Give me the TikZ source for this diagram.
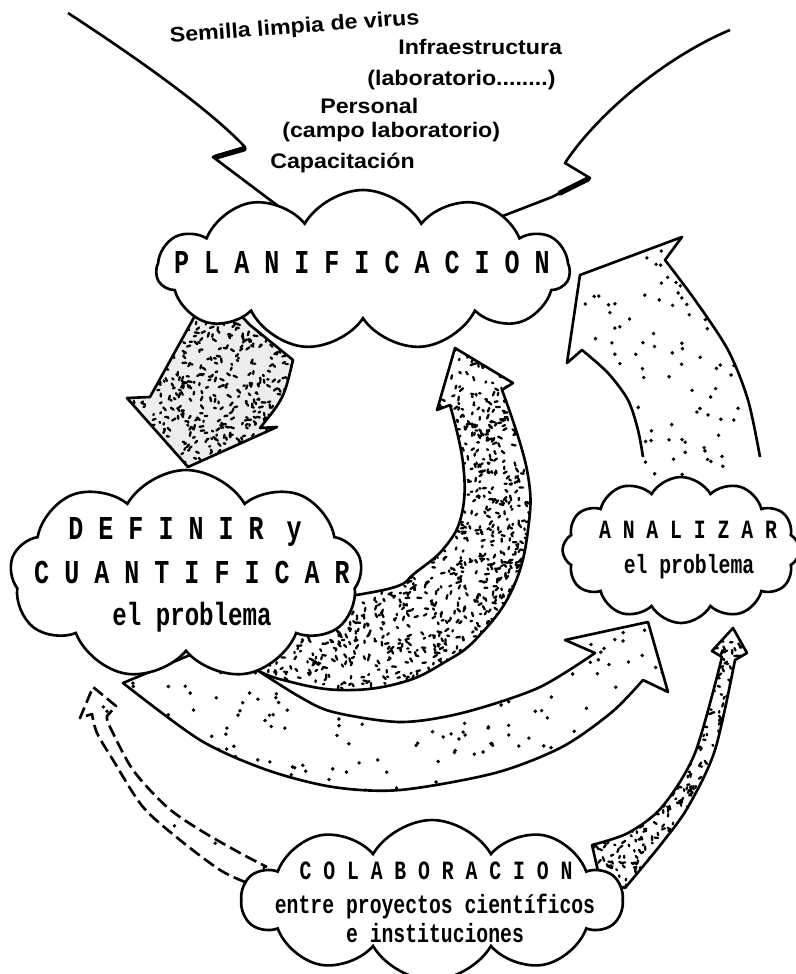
\documentclass[tikz,border=0pt]{standalone}
\usepackage{fontspec}
\usetikzlibrary{positioning,shapes.symbols,calc}
\newfontfamily\typew[FakeStretch=0.75]{Liberation Mono}
\newfontfamily\labsans[FakeStretch=1.1]{Liberation Sans}

% random specks / dots inside a box (use inside a clip)
\newcommand{\speckle}[5]{%
  \foreach \k in {1,...,#5}{%
    \pgfmathsetmacro{\sx}{#1+rnd*(#2-#1)}%
    \pgfmathsetmacro{\sy}{#3+rnd*(#4-#3)}%
    \pgfmathsetmacro{\sa}{rnd*180}%
    \pgfmathsetmacro{\sl}{1.2+rnd*3}%
    \draw[line width=1.3pt, line cap=round] (\sx,\sy) -- ++(\sa:\sl);
  }}
\newcommand{\sprinkle}[5]{%
  \foreach \k in {1,...,#5}{%
    \pgfmathsetmacro{\sx}{#1+rnd*(#2-#1)}%
    \pgfmathsetmacro{\sy}{#3+rnd*(#4-#3)}%
    \fill (\sx,\sy) circle (1.1pt);
  }}

% fat arrows
\def\arrA{(222,296) -- (197,312) -- (150,397) -- (127,398) -- (188,467) -- (277,427) -- (260,428) .. controls (284,398) .. (293,360) -- (250,325) -- cycle}
\def\arrB{(455,348) -- (513,383) -- (502,390) -- plot[smooth, tension=0.7] coordinates {(502,390) (527,470) (528,530) (512,590) (478,637) (445,662) (400,683) (340,690) (283,680) (257,670)} -- (300,620) -- plot[smooth, tension=0.7] coordinates {(343,597) (395,587) (415,573) (445,547) (462,513) (463,463) (450,405)} -- (437,410) -- cycle}
\def\arrC{plot[smooth] coordinates {(643,457) (638,430) (628,400) (608,373) (582,350)} -- (567,363) -- (580,275) -- (682,237) -- (665,260) -- plot[smooth] coordinates {(665,260) (695,300) (728,350) (748,400) (760,457)}}
\def\arrD{plot[smooth] coordinates {(123,683) (200,740) (267,770) (333,787) (400,790) (495,773) (562,747) (612,712) (643,680)} -- (668,692) -- (648,622) -- (565,640) -- (595,653) -- plot[smooth] coordinates {(595,653) (538,688) (462,713) (400,722) (333,712) (300,697) (257,670)} -- (190,655) -- cycle}
\def\arrE{plot[smooth] coordinates {(592,845) (628,833) (662,807) (695,753) (722,657)} -- (712,651) -- (733,628) -- (747,653) -- plot[smooth] coordinates {(735,660) (715,750) (688,807) (662,843) (625,888)} -- (600,880) -- cycle}
\def\arrF{plot[smooth] coordinates {(245,882) (220,870) (180,840) (143,807) (113,760) (97,733) (92,714)} -- (80,718) -- (93,687) -- (116,706) -- (107,716) -- plot[smooth] coordinates {(107,718) (110,727) (133,770) (167,807) (200,830) (240,853) (267,867)}}

\begin{document}
\begin{tikzpicture}[
  x=0.02cm, y=-0.02cm,
  outline/.style={line width=1.5pt, line join=round},
  cloudbox/.style={cloud, draw, fill=white, line width=1.5pt, cloud ignores aspect,
    cloud puff arc=120, inner sep=0pt},
  titlebig/.style={font=\typew\bfseries\fontsize{19}{22}\selectfont, anchor=base, inner sep=0pt},
  titlesmall/.style={font=\typew\bfseries\fontsize{15}{18}\selectfont, anchor=base, inner sep=0pt},
  bodybig/.style={font=\typew\bfseries\fontsize{18.3}{22}\selectfont, anchor=base, inner sep=0pt},
  bodysmall/.style={font=\typew\bfseries\fontsize{15}{18}\selectfont, anchor=base, inner sep=0pt},
  toplabel/.style={font=\labsans\bfseries\fontsize{12}{14}\selectfont, anchor=base west, inner sep=0pt}
]
\useasboundingbox (0,0) rectangle (795,974);
\pgfmathsetseed{4711}
\coordinate (plan-c) at (363,270);

% inputs into PLANIFICACION (run under the cloud)
\draw[outline] (68,13) .. controls (140,60) and (210,110) .. (245,147) -- (213,157) -- (plan-c);
\draw[line width=3pt, line cap=round] (244,149) -- (216,157);
\draw[outline] (730,30) .. controls (670,55) and (600,110) .. (565,163) -- (590,178) -- (552,197) -- (plan-c);
\draw[line width=3pt, line cap=round] (588,179) -- (560,193);

% arrow PLANIFICACION -> DEFINIR
\fill[black!7] \arrA;
\begin{scope}
  \clip \arrA;
  \speckle{125}{295}{295}{470}{600}
\end{scope}
\draw[outline] \arrA;

% arrow DEFINIR -> PLANIFICACION
\fill[white] \arrB;
\begin{scope}
  \clip \arrB;
  \speckle{255}{530}{345}{692}{2000}
\end{scope}
\draw[outline] \arrB;

% arrow ANALIZAR -> PLANIFICACION
\fill[white] \arrC -- (760,475) -- (643,475) -- cycle;
\begin{scope}
  \clip \arrC -- (760,478) -- (643,478) -- cycle;
  \sprinkle{565}{765}{235}{478}{150}
\end{scope}
\draw[outline] \arrC;

% arrow DEFINIR -> ANALIZAR
\fill[white] \arrD;
\begin{scope}
  \clip \arrD;
  \sprinkle{120}{670}{620}{792}{230}
\end{scope}
\draw[outline] \arrD;

% arrow COLABORACION -> ANALIZAR
\fill[white] \arrE;
\begin{scope}
  \clip \arrE;
  \speckle{590}{750}{625}{890}{900}
\end{scope}
\draw[outline] \arrE;

% arrow COLABORACION -> DEFINIR (dashed)
\begin{scope}
  \clip \arrF -- cycle;
  \sprinkle{78}{270}{685}{885}{40}
\end{scope}
\draw[outline, dash pattern=on 7pt off 3pt] \arrF;

% clouds
\node[cloudbox, cloud puffs=11, minimum width=8.26cm, minimum height=3.2cm] (plan) at (plan-c) {};
\node[cloudbox, cloud puffs=9, minimum width=7.04cm, minimum height=4.2cm] (defin) at (186,575) {};
\node[cloudbox, cloud puffs=12, minimum width=4.74cm, minimum height=2.92cm] (anal) at (681,550) {};
\node[cloudbox, cloud puffs=10, minimum width=7.6cm, minimum height=3.2cm] (colab) at (432,900) {};

\node[toplabel, rotate=4.3] (seed) at (170,43) {Semilla limpia de virus};
\node[toplabel] (infra) at (398,54) {Infraestructura};
\node[toplabel] (lab) at (367,85) {(laboratorio........)};
\node[toplabel] (staff) at (320,113) {Personal};
\node[toplabel] (field) at (282,137) {(campo laboratorio)};
\node[toplabel] (train) at (270,168) {Capacitación};

% cloud texts
\node[titlebig] (plan-t) at (362,273) {P L A N I F I C A C I O N};
\node[titlebig] (defin-t1) at (185,539) {D E F I N I R\hspace{13pt}y};
\node[titlebig] (defin-t2) at (192,583) {C U A N T I F I C A R};
\node[bodybig] (defin-t3) at (192,625) {el problema};
\node[titlesmall] (anal-t1) at (688,538) {A N A L I Z A R};
\node[bodysmall] (anal-t2) at (689,573) {el problema};
\node[titlesmall] (colab-t1) at (436,879) {C O L A B O R A C I O N};
\node[bodysmall] (colab-t2) at (435,913) {entre proyectos científicos};
\node[bodysmall] (colab-t3) at (435,942) {e instituciones};
\end{tikzpicture}
\end{document}
